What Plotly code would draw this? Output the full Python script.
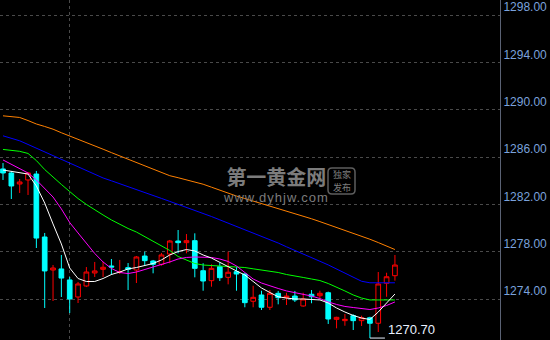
import plotly.graph_objects as go

# ---- data ----
idx = list(range(48))
opens = [1284.99, 1284.65, 1283.72, 1284.06, 1284.56, 1279.24, 1276.45, 1276.54, 1275.61, 1274.17,
         1275.10, 1276.20, 1276.51, 1276.79, 1276.26, 1276.65, 1276.45, 1277.63, 1277.21, 1276.93,
         1277.80, 1278.90, 1278.76, 1278.93, 1276.39, 1275.55, 1276.73, 1275.83, 1276.31, 1276.11,
         1273.81, 1274.34, 1273.30, 1274.48, 1274.11, 1274.25, 1273.41, 1274.40, 1274.28, 1274.53,
         1272.28, 1272.17, 1272.59, 1272.17, 1272.42, 1271.95, 1275.33, 1275.97]
highs = [1285.49, 1284.82, 1284.14, 1284.73, 1284.82, 1279.58, 1276.87, 1277.72, 1275.86, 1275.44,
         1276.70, 1277.13, 1277.13, 1277.38, 1277.30, 1277.04, 1277.63, 1278.00, 1277.30, 1277.89,
         1278.99, 1279.83, 1279.49, 1279.55, 1277.02, 1276.93, 1277.07, 1278.00, 1276.73, 1276.17,
         1275.12, 1274.70, 1274.76, 1274.68, 1274.53, 1274.68, 1274.53, 1274.76, 1274.70, 1274.62,
         1272.50, 1272.73, 1272.71, 1272.59, 1272.50, 1276.28, 1276.22, 1277.72]
lows = [1284.06, 1282.45, 1282.96, 1282.79, 1278.31, 1273.24, 1273.83, 1274.17, 1272.82, 1273.66,
        1275.01, 1275.86, 1275.86, 1276.03, 1276.11, 1274.76, 1275.35, 1276.87, 1276.17, 1276.81,
        1277.02, 1277.86, 1277.86, 1275.83, 1274.70, 1275.04, 1275.52, 1275.24, 1274.70, 1273.30,
        1273.30, 1273.07, 1273.07, 1273.55, 1273.49, 1273.75, 1273.35, 1273.64, 1274.06, 1271.89,
        1271.52, 1271.74, 1271.38, 1271.72, 1270.70, 1271.21, 1274.19, 1275.55]
closes = [1284.65, 1283.55, 1283.89, 1284.65, 1279.15, 1276.37, 1276.62, 1275.77, 1274.00, 1275.27,
          1276.28, 1276.37, 1276.68, 1276.70, 1276.31, 1276.51, 1277.55, 1277.24, 1276.93, 1277.72,
          1278.90, 1278.76, 1278.93, 1276.59, 1275.52, 1276.59, 1275.80, 1276.26, 1276.11, 1273.69,
          1274.14, 1273.30, 1274.48, 1274.11, 1274.25, 1273.92, 1274.00, 1274.19, 1274.48, 1272.31,
          1272.45, 1272.28, 1272.17, 1272.42, 1271.95, 1275.27, 1275.88, 1276.87]

ma_white = [1284.90, 1284.77, 1284.69, 1284.56, 1283.55, 1282.11, 1280.34, 1278.65, 1276.62, 1275.73,
            1275.48, 1275.48, 1275.73, 1276.07, 1276.28, 1276.54, 1276.66, 1276.83, 1277.00, 1277.30,
            1277.72, 1278.01, 1278.18, 1278.06, 1277.72, 1277.46, 1277.08, 1276.73, 1276.37, 1276.03,
            1275.48, 1274.93, 1274.55, 1274.19, 1274.08, 1274.00, 1274.00, 1273.96, 1273.92, 1273.66,
            1273.24, 1272.90, 1272.61, 1272.39, 1272.27, 1272.90, 1273.66, 1274.42]
ma_magenta = [1285.75, 1285.37, 1285.03, 1284.65, 1284.06, 1283.38, 1282.62, 1281.61, 1280.46, 1279.58,
              1278.69, 1277.85, 1277.13, 1276.58, 1276.24, 1276.15, 1276.28, 1276.49, 1276.68, 1276.87,
              1277.13, 1277.38, 1277.51, 1277.55, 1277.55, 1277.51, 1277.38, 1277.17, 1276.79, 1276.20,
              1275.69, 1275.35, 1275.10, 1274.89, 1274.68, 1274.55, 1274.42, 1274.25, 1274.04, 1273.75,
              1273.54, 1273.37, 1273.28, 1273.20, 1273.11, 1273.24, 1273.45, 1273.75]
ma_green = [1286.64, 1286.57, 1286.48, 1286.30, 1285.70, 1284.94, 1284.27, 1283.68, 1283.08, 1282.49,
            1281.99, 1281.52, 1281.10, 1280.68, 1280.30, 1279.96, 1279.66, 1279.28, 1278.90, 1278.48,
            1278.10, 1277.59, 1277.30, 1277.00, 1276.87, 1276.83, 1276.79, 1276.76, 1276.72, 1276.66,
            1276.55, 1276.45, 1276.34, 1276.24, 1276.07, 1275.92, 1275.82, 1275.69, 1275.56, 1275.31,
            1275.01, 1274.68, 1274.34, 1274.08, 1273.92, 1273.92, 1273.92, 1273.92]
ma_blue = [1287.79, 1287.61, 1287.37, 1287.06, 1286.74, 1286.42, 1286.10, 1285.78, 1285.47, 1285.16,
           1284.83, 1284.51, 1284.23, 1283.99, 1283.75, 1283.52, 1283.28, 1283.02, 1282.76, 1282.50,
           1282.25, 1282.00, 1281.76, 1281.50, 1281.25, 1280.97, 1280.69, 1280.41, 1280.14, 1279.87,
           1279.60, 1279.33, 1279.05, 1278.73, 1278.41, 1278.09, 1277.78, 1277.48, 1277.19, 1276.88,
           1276.54, 1276.18, 1275.83, 1275.50, 1275.37, 1275.37, 1275.37, 1275.37]
ma_orange = [1289.48, 1289.44, 1289.34, 1289.08, 1288.79, 1288.58, 1288.35, 1288.05, 1287.78, 1287.52,
             1287.25, 1286.96, 1286.66, 1286.37, 1286.09, 1285.81, 1285.53, 1285.24, 1284.95, 1284.67,
             1284.42, 1284.25, 1284.08, 1283.91, 1283.70, 1283.45, 1283.19, 1282.93, 1282.70, 1282.49,
             1282.28, 1282.08, 1281.87, 1281.66, 1281.44, 1281.23, 1281.01, 1280.78, 1280.54, 1280.30,
             1280.06, 1279.81, 1279.56, 1279.32, 1279.05, 1278.77, 1278.48, 1278.18]

y_ticks = [1274, 1278, 1282, 1286, 1290, 1294, 1298]
y_tick_text = ["1274.00", "1278.00", "1282.00", "1286.00", "1290.00", "1294.00", "1298.00"]
low_index = 44
low_label = "1270.70"

# ---- figure ----
fig = go.Figure()
fig.add_trace(go.Candlestick(
    x=idx, open=opens, high=highs, low=lows, close=closes,
    increasing=dict(line=dict(color="#ff0000", width=1), fillcolor="#000000"),
    decreasing=dict(line=dict(color="#00ffff", width=1), fillcolor="#00ffff"),
    whiskerwidth=0, showlegend=False, hoverinfo="skip"))

for vals, col in [(ma_orange, "#ff8000"), (ma_blue, "#0000ff"), (ma_green, "#00ff00"),
                  (ma_magenta, "#ff00ff"), (ma_white, "#ffffff")]:
    fig.add_trace(go.Scatter(x=idx, y=vals, mode="lines", line=dict(color=col, width=1),
                             showlegend=False, hoverinfo="skip"))

# lowest-point marker
low_val = lows[low_index]
fig.add_trace(go.Scatter(x=[low_index, low_index + 1.8], y=[low_val, low_val], mode="lines",
                         line=dict(color="#e8f0ff", width=1), showlegend=False, hoverinfo="skip"))
fig.add_annotation(x=low_index + 1.9, y=low_val + 0.72, text=low_label, showarrow=False,
                   xanchor="left", yanchor="middle",
                   font=dict(family="Liberation Sans, Arial", size=13, color="#e8f0ff"))

# watermark
W, H = 500.0, 340.0
def px(x):
    return x / W
def py(y):
    return 1 - y / H

wm = "#7c7c7c"
fig.add_annotation(xref="paper", yref="paper", x=px(275.5), y=py(183),
                   text="<span style='font-size:20px;font-family:\"Noto Sans CJK SC\"'><b>第一黄金网</b></span>"
                        "<br><span style='letter-spacing:1px'>www.dyhjw.com</span>",
                   showarrow=False, xanchor="center", yanchor="middle", align="center",
                   font=dict(family="Liberation Sans, Arial", size=13, color=wm))
x0, x1, y0, y1, r = 328, 355, 168, 194, 4
path = (f"M {px(x0+r)},{py(y0)} L {px(x1-r)},{py(y0)} Q {px(x1)},{py(y0)} {px(x1)},{py(y0+r)} "
        f"L {px(x1)},{py(y1-r)} Q {px(x1)},{py(y1)} {px(x1-r)},{py(y1)} "
        f"L {px(x0+r)},{py(y1)} Q {px(x0)},{py(y1)} {px(x0)},{py(y1-r)} "
        f"L {px(x0)},{py(y0+r)} Q {px(x0)},{py(y0)} {px(x0+r)},{py(y0)} Z")
fig.add_shape(type="path", xref="paper", yref="paper", path=path,
              line=dict(color="#5e5e5e", width=1.5))
fig.add_annotation(xref="paper", yref="paper", x=px(341.5), y=py(174.3), text="独家",
                   showarrow=False, xanchor="center", yanchor="middle", borderpad=0,
                   font=dict(family="Noto Sans CJK SC", size=9, color=wm))
fig.add_annotation(xref="paper", yref="paper", x=px(341.5), y=py(187.2), text="发布",
                   showarrow=False, xanchor="center", yanchor="middle", borderpad=0,
                   font=dict(family="Noto Sans CJK SC", size=9, color=wm))

fig.update_layout(
    width=550, height=340,
    margin=dict(l=0, r=50, t=0, b=0),
    paper_bgcolor="#000000", plot_bgcolor="#000000",
    boxgap=0.2,
    showlegend=False,
    xaxis=dict(range=[-0.36, 59.6], rangeslider=dict(visible=False),
               tickvals=[8], showticklabels=False, ticks="",
               showgrid=True, gridcolor="#4a4a4a", griddash="dot", gridwidth=1,
               zeroline=False, showline=False, fixedrange=True),
    yaxis=dict(range=[1270.535, 1299.268], side="right",
               tickvals=y_ticks, ticktext=y_tick_text, ticks="",
               tickfont=dict(family="Liberation Sans, Arial", size=12, color="#7aa2dc"),
               ticklabelshift=-8, ticklabelstandoff=0,
               showgrid=True, gridcolor="#4a4a4a", griddash="dot", gridwidth=1,
               showline=True, linecolor="#5a6274", linewidth=1,
               zeroline=False, fixedrange=True),
)

fig.write_html("out.html")
